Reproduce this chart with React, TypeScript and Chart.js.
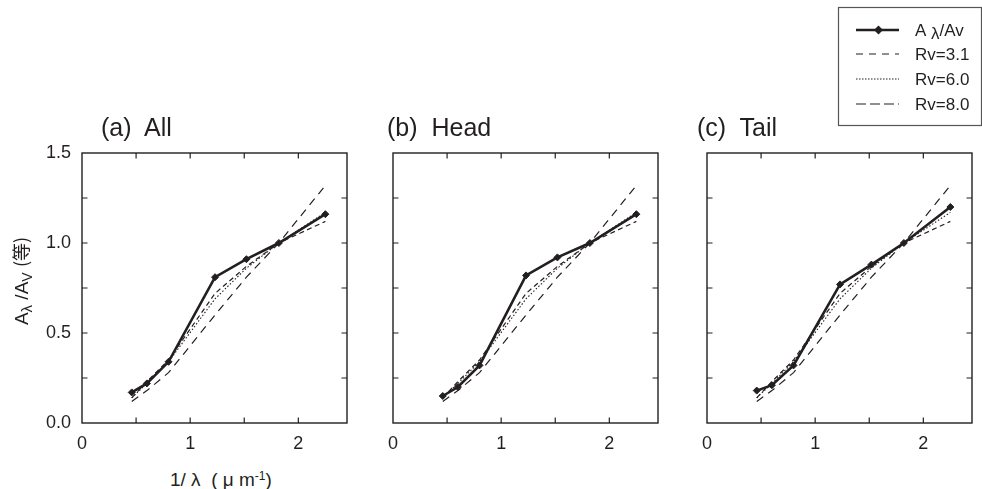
import React, { useEffect, useRef } from 'react';
import { Chart, registerables } from 'chart.js';

Chart.register(...registerables);

// ---- data ----
const bandX = [0.46, 0.6, 0.8, 1.23, 1.52, 1.82, 2.25];
const obsAll = [0.17, 0.22, 0.34, 0.81, 0.91, 1.0, 1.16];
const obsHead = [0.15, 0.2, 0.32, 0.82, 0.92, 1.0, 1.16];
const obsTail = [0.18, 0.21, 0.32, 0.77, 0.88, 1.0, 1.2];
const rv31 = [0.12, 0.18, 0.28, 0.6, 0.81, 1.0, 1.32];
const rv60 = [0.14, 0.22, 0.34, 0.69, 0.86, 1.0, 1.17];
const rv80 = [0.14, 0.23, 0.35, 0.72, 0.87, 1.0, 1.12];
const seriesLabels = ['Aλ/Av', 'Rv=3.1', 'Rv=6.0', 'Rv=8.0'];
const panelTitles = ['(a)  All', '(b)  Head', '(c)  Tail'];
const xTickLabels = [0, 1, 2];
const yTickLabels = [0, 0.5, 1.0, 1.5];
const xTickMarks = [0.5, 1, 1.5, 2];
const yTickMarks = [0.25, 0.5, 0.75, 1, 1.25];

const FONT = '"Liberation Sans", Arial, Helvetica, sans-serif';
const INK = '#231f20';

const framePlugin = {
  id: 'frame',
  beforeDatasetsDraw(chart: any) {
    const { ctx, chartArea, scales } = chart;
    const { left, right, top, bottom } = chartArea;
    ctx.save();
    ctx.strokeStyle = INK;
    ctx.lineWidth = 1.4;
    ctx.strokeRect(left, top, right - left, bottom - top);
    ctx.lineWidth = 1.2;
    ctx.beginPath();
    const tl = 5.5;
    for (const v of xTickMarks) {
      const px = scales.x.getPixelForValue(v);
      ctx.moveTo(px, bottom);
      ctx.lineTo(px, bottom - tl);
      ctx.moveTo(px, top);
      ctx.lineTo(px, top + tl);
    }
    for (const v of yTickMarks) {
      const py = scales.y.getPixelForValue(v);
      ctx.moveTo(left, py);
      ctx.lineTo(left + tl, py);
      ctx.moveTo(right, py);
      ctx.lineTo(right - tl, py);
    }
    ctx.stroke();
    ctx.restore();
  },
};

// legend drawn in canvas-local coords of the (c) chart
const legendPlugin = {
  id: 'customLegend',
  afterDraw(chart: any) {
    const opts = chart.options.plugins.customLegend;
    if (!opts || !opts.show) return;
    const ctx = chart.ctx;
    const ox = opts.ox;
    ctx.save();
    ctx.strokeStyle = '#555';
    ctx.lineWidth = 1.2;
    ctx.strokeRect(838.5 - ox, 7.5, 143, 118);
    const rows = [30, 54, 79, 104];
    const x0 = 856 - ox;
    const x1 = 899 - ox;
    const tx = 915 - ox;
    chart.data.datasets.forEach((ds: any, i: number) => {
      const yy = rows[i];
      ctx.save();
      ctx.strokeStyle = ds.borderColor;
      ctx.lineWidth = ds.borderWidth;
      ctx.setLineDash(ds.legendDash || []);
      ctx.beginPath();
      ctx.moveTo(x0, yy);
      ctx.lineTo(x1, yy);
      ctx.stroke();
      ctx.restore();
      if (ds.pointRadius > 0) {
        const cx = (x0 + x1) / 2 + 1;
        const r = 4.5;
        ctx.fillStyle = ds.borderColor;
        ctx.beginPath();
        ctx.moveTo(cx, yy - r);
        ctx.lineTo(cx + r, yy);
        ctx.lineTo(cx, yy + r);
        ctx.lineTo(cx - r, yy);
        ctx.closePath();
        ctx.fill();
      }
      ctx.fillStyle = INK;
      ctx.textBaseline = 'alphabetic';
      ctx.font = `17px ${FONT}`;
      const label = seriesLabels[i];
      if (i === 0) {
        let xx = tx;
        ctx.fillText('A', xx, yy + 6);
        xx += ctx.measureText('A ').width;
        ctx.fillText('λ', xx, yy + 9);
        xx += ctx.measureText('λ').width;
        ctx.fillText('/Av', xx, yy + 6);
      } else {
        ctx.fillText(label, tx, yy + 6);
      }
    });
    ctx.restore();
  },
};

function toPts(ys: number[]) {
  return bandX.map((x, i) => ({ x, y: ys[i] }));
}

function makeConfig(obs: number[], showY: boolean, padRight: number, legend: { show: boolean; ox: number }) {
  return {
    type: 'line' as const,
    data: {
      datasets: [
        {
          label: seriesLabels[0],
          data: toPts(obs),
          borderColor: INK,
          backgroundColor: INK,
          borderWidth: 2.6,
          pointStyle: 'rectRot',
          pointRadius: 3.5,
          pointBackgroundColor: INK,
          pointBorderColor: INK,
          pointBorderWidth: 1,
          legendDash: [],
        },
        {
          label: seriesLabels[1],
          data: toPts(rv31),
          borderColor: INK,
          borderWidth: 1.2,
          borderDash: [8, 6],
          pointRadius: 0,
          legendDash: [7, 6],
        },
        {
          label: seriesLabels[2],
          data: toPts(rv60),
          borderColor: INK,
          borderWidth: 1.1,
          borderDash: [1.5, 2],
          pointRadius: 0,
          legendDash: [1.5, 1.5],
        },
        {
          label: seriesLabels[3],
          data: toPts(rv80),
          borderColor: INK,
          borderWidth: 1.2,
          borderDash: [5, 3.5],
          pointRadius: 0,
          legendDash: [10, 4],
        },
      ],
    },
    options: {
      animation: false,
      responsive: false,
      maintainAspectRatio: false,
      layout: { padding: { top: 153, left: 0, right: padRight, bottom: 0 } },
      plugins: {
        legend: { display: false },
        tooltip: { enabled: false },
        title: { display: false },
        customLegend: legend,
      },
      scales: {
        x: {
          type: 'linear',
          min: 0,
          max: 2.45,
          afterFit: (s: any) => {
            s.height = 40;
          },
          afterBuildTicks: (s: any) => {
            s.ticks = xTickLabels.map((v) => ({ value: v }));
          },
          grid: { display: false, drawTicks: false },
          border: { display: false },
          ticks: {
            padding: 10,
            color: INK,
            font: { family: FONT, size: 18 },
            callback: (v: any) => String(v),
          },
        },
        y: {
          type: 'linear',
          min: 0,
          max: 1.5,
          afterFit: (s: any) => {
            s.width = 82;
          },
          afterBuildTicks: (s: any) => {
            s.ticks = yTickLabels.map((v) => ({ value: v }));
          },
          grid: { display: false, drawTicks: false },
          border: { display: false },
          ticks: {
            display: showY,
            padding: 11,
            color: INK,
            font: { family: FONT, size: 18 },
            callback: (v: any) => Number(v).toFixed(1),
          },
        },
      },
    },
    plugins: [framePlugin, legendPlugin],
  };
}

const panels = [
  { left: 0, width: 362, obs: obsAll, showY: true, padRight: 15 },
  { left: 311, width: 362, obs: obsHead, showY: false, padRight: 15 },
  { left: 625, width: 357, obs: obsTail, showY: false, padRight: 10 },
];
const titleLeft = [101, 387, 697];

export default function App() {
  const refs = [useRef<HTMLCanvasElement>(null), useRef<HTMLCanvasElement>(null), useRef<HTMLCanvasElement>(null)];

  useEffect(() => {
    const charts: Chart[] = [];
    panels.forEach((p, i) => {
      const c = refs[i].current;
      if (!c) return;
      const cfg: any = makeConfig(p.obs, p.showY, p.padRight, { show: i === 2, ox: p.left });
      charts.push(new Chart(c, cfg));
    });
    return () => charts.forEach((ch) => ch.destroy());
  }, []);

  return (
    <div
      style={{
        position: 'absolute',
        left: 0,
        top: 0,
        width: 982,
        height: 489,
        overflow: 'hidden',
        background: '#fff',
        fontFamily: FONT,
        color: INK,
      }}
    >
      {panels.map((p, i) => (
        <canvas
          key={i}
          ref={refs[i]}
          width={p.width}
          height={463}
          style={{ position: 'absolute', left: p.left, top: 0, width: p.width, height: 463 }}
        />
      ))}
      {panelTitles.map((t, i) => (
        <div
          key={t}
          style={{
            position: 'absolute',
            left: titleLeft[i],
            top: 115,
            fontSize: 25,
            lineHeight: '25px',
            whiteSpace: 'pre',
          }}
        >
          {t}
        </div>
      ))}
      <div
        style={{
          position: 'absolute',
          left: -80,
          top: 269,
          width: 200,
          height: 24,
          lineHeight: '24px',
          fontSize: 19,
          textAlign: 'center',
          whiteSpace: 'pre',
          transform: 'rotate(-90deg)',
          transformOrigin: '100px 12px',
        }}
      >
        A<sub style={{ fontSize: 15, verticalAlign: '-4px' }}>λ</sub> /A<sub style={{ fontSize: 14, verticalAlign: '-4px' }}>V</sub> <span style={{ fontFamily: '"Noto Sans CJK JP", sans-serif', fontSize: 18 }}>(等)</span>
      </div>
      <div
        style={{
          position: 'absolute',
          left: 170,
          top: 467,
          fontSize: 19,
          lineHeight: '19px',
          whiteSpace: 'pre',
        }}
      >
        1/ λ  ( μ m<sup style={{ fontSize: 12, verticalAlign: '6px' }}>-1</sup>)
      </div>
    </div>
  );
}
